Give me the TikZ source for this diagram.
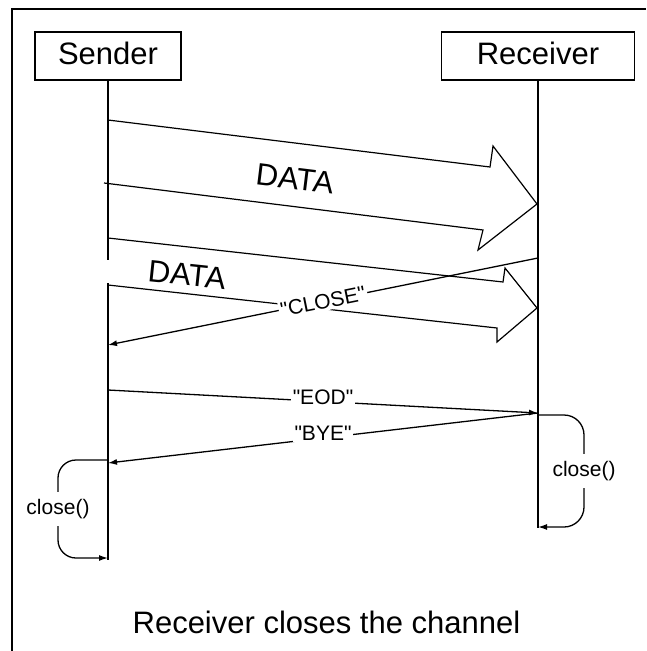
\documentclass[tikz,border=0pt]{standalone}
\usepackage{fontspec}
\setmainfont{Liberation Sans}[Ligatures=TeXOff]
\usetikzlibrary{arrows.meta}

\tikzset{
  actor/.style={draw, line width=1.4pt, minimum height=48pt, inner sep=0pt,
    text depth=5pt, font=\fontsize{31}{31}\selectfont},
  lifeline/.style={line width=1.4pt},
  msg/.style={line width=1.3pt, -{Latex[length=9pt,width=6pt]}},
  msglabel/.style={fill=white, inner sep=2pt, font=\fontsize{21}{21}\selectfont},
  datalabel/.style={font=\fontsize{31}{31}\selectfont},
  blockarrow/.style={line width=1.2pt, line join=miter},
}

\begin{document}
\begin{tikzpicture}[x=1pt,y=-1pt]
        \useasboundingbox (0,0) rectangle (646,651);

        %% frame
        \draw[line width=1.8pt] (12,651) -- (12,9) -- (646,9);

        %% actors
        \node (snd) at (108,56) [actor, minimum width=146pt] {Sender};
        \node (rcv) at (538,56) [actor, minimum width=193pt] {Receiver};

        %% points on the lifelines
        \coordinate (snd-gap1) at (108,260);
        \coordinate (snd-gap2) at (108,283);
        \coordinate (snd-end) at (108,560);
        \coordinate (rcv-end) at (538,528);

        \coordinate (rcv-close) at (538,258);
        \coordinate (snd-close) at (108,345);
        \coordinate (snd-eod) at (108,390);
        \coordinate (rcv-eod) at (538,413);
        \coordinate (snd-bye) at (108,463);
        \coordinate (snd-c1) at (108,460);
        \coordinate (snd-c2) at (108,558);
        \coordinate (rcv-c1) at (538,415);
        \coordinate (rcv-c2) at (538,527);

        %% lifelines
        \draw[lifeline] (snd.south) -- (snd-gap1);
        \draw[lifeline] (snd-gap2) -- (snd-end);
        \draw[lifeline] (rcv.south) -- (rcv-end);

        %% data
        \draw[blockarrow] (108,120) -- (490,167) -- (493,146) -- (537,204)
            -- (478,250) -- (483,230) -- (104,183);
        \node (data1) at (295,179) [datalabel, rotate=-7] {DATA};

        \draw[blockarrow] (108,238) -- (503,282) -- (505,268) -- (537,308)
            -- (497,342) -- (497,328) -- (108,285);
        \node (data2) at (187,275) [datalabel, rotate=-6] {DATA};

        %% messages
        \draw[msg] (rcv-close) -- node[msglabel, sloped] {"CLOSE"} (snd-close);
        \draw[msg] (snd-eod) -- node[msglabel, yshift=4pt] {"EOD"} (rcv-eod);
        \draw[msg] (rcv-eod) -- node[msglabel, yshift=5pt] {"BYE"} (snd-bye);

        %% close()
        \draw[msg, rounded corners=18pt] (snd-c1) -- (58,460)
            -- node[msglabel, inner ysep=7pt] {close()} (58,558) -- (snd-c2);
        \draw[msg, rounded corners=20pt] (rcv-c1) -- (584,415)
            -- node[msglabel, inner ysep=7pt] {close()} (584,527) -- (rcv-c2);

        %% caption
        \node (caption) at (326.5,622) [font=\fontsize{31}{31}\selectfont]
            {Receiver closes the channel};
      \end{tikzpicture}
\end{document}
